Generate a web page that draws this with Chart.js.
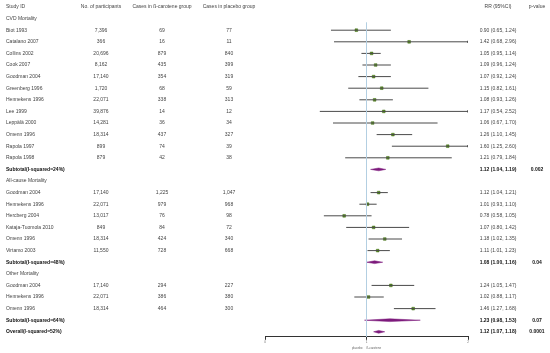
<!DOCTYPE html>
<html>
<head>
<meta charset="utf-8">
<script src="https://cdn.jsdelivr.net/npm/chart.js@4.4.1/dist/chart.umd.min.js"></script>
<style>
  html, body { margin: 0; padding: 0; background: #fff; }
  canvas { display: block; }
</style>
</head>
<body>
<canvas id="forest" width="550" height="353"></canvas>
<script>
// rows of the table (index = row on the y scale)
const rowLabels = [
  'Study ID', 'CVD Mortality',
  'Biot 1993', 'Catalano 2007', 'Collins 2002', 'Cook 2007', 'Goodman 2004', 'Greenberg 1996',
  'Hennekens 1996', 'Lee 1999', 'Leppälä 2000', 'Omenn 1996', 'Rapola 1997', 'Rapola 1998',
  'Subtotal(I-squared=24%)', 'All-cause Mortality',
  'Goodman 2004', 'Hennekens 1996', 'Hercberg 2004', 'Kataja-Tuomola 2010', 'Omenn 1996', 'Virtamo 2003',
  'Subtotal(I-squared=48%)', 'Other Mortality',
  'Goodman 2004', 'Hennekens 1996', 'Omenn 1996',
  'Subtotal(I-squared=64%)', 'Overall(I-squared=52%)'
];
const participants = [
  'No. of participants', '',
  '7,396', '366', '20,696', '8,162', '17,140', '1,720', '22,071', '39,876', '14,281', '18,314', '899', '879',
  '', '',
  '17,140', '22,071', '13,017', '849', '18,314', '11,550',
  '', '',
  '17,140', '22,071', '18,314',
  '', ''
];
const betaCases = [
  'Cases in ß-carotene group', '',
  '69', '16', '879', '435', '354', '68', '338', '14', '36', '437', '74', '42',
  '', '',
  '1,225', '979', '76', '84', '424', '728',
  '', '',
  '294', '386', '464',
  '', ''
];
const placeboCases = [
  'Cases in placebo group', '',
  '77', '11', '840', '399', '319', '59', '313', '12', '34', '327', '39', '38',
  '', '',
  '1,047', '968', '98', '72', '340', '668',
  '', '',
  '227', '380', '300',
  '', ''
];
const rrLabels = [
  'RR (95%CI)', '',
  '0.90 (0.65, 1.24)', '1.42 (0.68, 2.96)', '1.05 (0.95, 1.14)', '1.09 (0.96, 1.24)', '1.07 (0.92, 1.24)',
  '1.15 (0.82, 1.61)', '1.08 (0.93, 1.26)', '1.17 (0.54, 2.52)', '1.06 (0.67, 1.70)', '1.26 (1.10, 1.45)',
  '1.60 (1.25, 2.60)', '1.21 (0.79, 1.84)',
  '1.12 (1.04, 1.19)', '',
  '1.12 (1.04, 1.21)', '1.01 (0.93, 1.10)', '0.78 (0.58, 1.05)', '1.07 (0.80, 1.42)', '1.18 (1.02, 1.35)',
  '1.11 (1.01, 1.23)',
  '1.08 (1.00, 1.16)', '',
  '1.24 (1.05, 1.47)', '1.02 (0.88, 1.17)', '1.46 (1.27, 1.68)',
  '1.23 (0.98, 1.53)', '1.12 (1.07, 1.18)'
];
const pValues = [
  'p-value', '', '', '', '', '', '', '', '', '', '', '', '', '',
  '0.002', '', '', '', '', '', '', '', '0.04', '', '', '', '', '0.07', '0.0001'
];

// individual studies (markers + CI lines)
const studyRows = [2, 3, 4, 5, 6, 7, 8, 9, 10, 11, 12, 13, 16, 17, 18, 19, 20, 21, 24, 25, 26];
const studyRR = [0.90, 1.42, 1.05, 1.09, 1.07, 1.15, 1.08, 1.17, 1.06, 1.26, 1.80, 1.21,
                 1.12, 1.01, 0.78, 1.07, 1.18, 1.11, 1.24, 1.02, 1.46];
const studyLo = [0.65, 0.68, 0.95, 0.96, 0.92, 0.82, 0.93, 0.54, 0.67, 1.10, 1.25, 0.79,
                 1.04, 0.93, 0.58, 0.80, 1.02, 1.01, 1.05, 0.88, 1.27];
const studyHi = [1.24, 2.96, 1.14, 1.24, 1.24, 1.61, 1.26, 2.52, 1.70, 1.45, 2.60, 1.84,
                 1.21, 1.10, 1.05, 1.42, 1.35, 1.23, 1.47, 1.17, 1.68];

// pooled estimates (diamonds)
const poolRows = [14, 22, 27, 28];
const poolRR = [1.12, 1.08, 1.23, 1.12];
const poolLo = [1.04, 1.00, 0.98, 1.07];
const poolHi = [1.19, 1.16, 1.53, 1.18];

const xTicks = [0, 1, 2];
const boldRows = [14, 22, 27, 28];

const X_MIN = 0, X_MAX = 2;
const Y_MAX = 28.43;

// CI segments, gaps between them
const ciData = [];
studyRows.forEach((r, i) => {
  ciData.push({ x: studyLo[i], y: r });
  ciData.push({ x: Math.min(studyHi[i], X_MAX), y: r });
  ciData.push({ x: null, y: null });
});
const arrowData = studyRows
  .map((r, i) => studyHi[i] > X_MAX ? { x: X_MAX, y: r } : null)
  .filter(Boolean);
const markerData = studyRows.map((r, i) => ({ x: studyRR[i], y: r }));

const dh = 0.12;
const diamondSets = poolRows.map((r, i) => ({
  type: 'line',
  data: [
    { x: poolLo[i], y: r }, { x: poolRR[i], y: r - dh },
    { x: poolHi[i], y: r }, { x: poolRR[i], y: r + dh }, { x: poolLo[i], y: r }
  ],
  borderColor: '#7d1a7c',
  borderWidth: 0.5,
  backgroundColor: '#7d1a7c',
  fill: 'shape',
  pointRadius: 0,
  tension: 0
}));

const FONT = '"Liberation Sans", Arial, sans-serif';

const tablePlugin = {
  id: 'tableText',
  afterDraw(chart) {
    const ctx = chart.ctx;
    const ys = chart.scales.y;
    ctx.save();
    ctx.textBaseline = 'middle';
    rowLabels.forEach((lab, i) => {
      const y = ys.getPixelForValue(i);
      const bold = boldRows.includes(i);
      ctx.font = (bold ? 'bold ' : '') + '5px ' + FONT;
      ctx.fillStyle = bold ? '#111' : '#444';
      ctx.textAlign = 'left';
      ctx.fillText(lab, 6, y);
      ctx.textAlign = 'center';
      ctx.fillText(participants[i], 101, y);
      ctx.fillText(betaCases[i], 162, y);
      ctx.fillText(placeboCases[i], 229, y);
      ctx.fillText(rrLabels[i], 498, y);
      ctx.fillText(pValues[i], 537, y);
    });
    ctx.restore();
  }
};

new Chart(document.getElementById('forest'), {
  type: 'scatter',
  data: {
    datasets: [
      {
        type: 'line',
        data: [{ x: 1, y: 1.35 }, { x: 1, y: Y_MAX }],
        borderColor: '#b3cfe2',
        borderWidth: 1,
        pointRadius: 0
      },
      {
        type: 'line',
        data: ciData,
        borderColor: '#4a4a4a',
        borderWidth: 1,
        pointRadius: 0,
        spanGaps: false
      },
      {
        data: arrowData,
        pointStyle: 'triangle',
        rotation: 90,
        radius: 1.5,
        backgroundColor: '#333',
        borderColor: '#333',
        borderWidth: 0
      },
      ...diamondSets,
      {
        data: markerData,
        pointStyle: 'rect',
        radius: 1.9,
        backgroundColor: '#5e9424',
        borderColor: '#3d6a10',
        borderWidth: 0.5
      }
    ]
  },
  options: {
    responsive: false,
    animation: false,
    layout: { padding: { left: 265, right: 82, top: 7, bottom: 3 } },
    plugins: { legend: { display: false }, tooltip: { enabled: false } },
    scales: {
      x: {
        type: 'linear',
        min: X_MIN,
        max: X_MAX,
        afterBuildTicks: (s) => { s.ticks = xTicks.map(v => ({ value: v })); },
        grid: { drawOnChartArea: false, tickLength: 3, color: '#333' },
        border: { color: '#333', width: 1 },
        ticks: { font: { size: 3, family: FONT }, color: '#666', padding: 1 },
        title: {
          display: true,
          text: 'placebo     ß-carotene',
          font: { size: 3, family: FONT },
          color: '#666',
          padding: { top: 1, bottom: 0 }
        }
      },
      y: {
        type: 'linear',
        display: false,
        reverse: true,
        min: 0,
        max: Y_MAX
      }
    }
  },
  plugins: [tablePlugin]
});
</script>
</body>
</html>
